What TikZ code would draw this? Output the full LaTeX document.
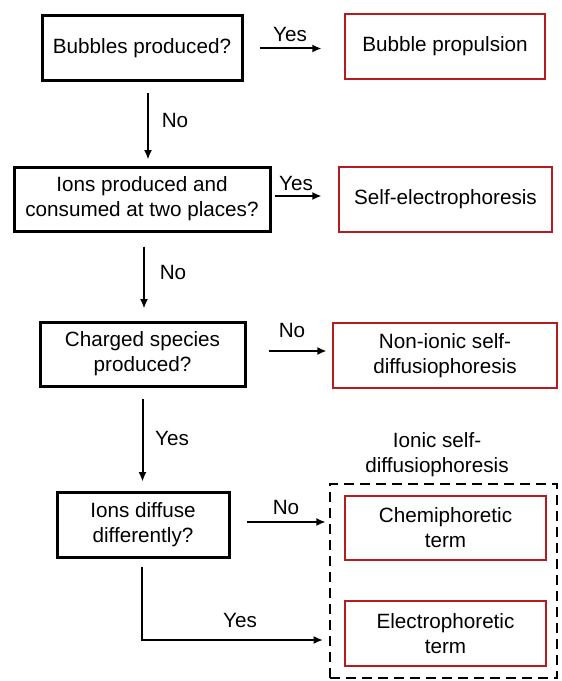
\documentclass[tikz,border=0pt]{standalone}
\usepackage{fontspec}
\setmainfont{Liberation Sans}
\usetikzlibrary{arrows.meta}
\definecolor{termred}{RGB}{180,28,32}
\tikzset{every picture/.style={line width=0.75pt}}
\tikzset{
	txt/.style={font=\fontsize{15.5}{18.6}\selectfont, align=center},
	question/.style={txt, draw, line width=2.25pt, inner sep=0pt},
	outcome/.style={txt, draw=termred, line width=2.1pt, inner sep=0pt},
	flow/.style={line width=1.5pt, -{Latex[length=7pt,width=6pt]}},
	answer/.style={txt}
}

\begin{document}
\begin{tikzpicture}[x=0.75pt,y=0.75pt,yscale=-1,xscale=1]
	\useasboundingbox (0,0) rectangle (561,681);
	
	%Shape: Rectangle [questions]
	\node[question, minimum width=150pt, minimum height=48.75pt] (bubbles) at (142,48.5) {Bubbles produced?};
	\node[question, minimum width=192pt, minimum height=48pt] (ions) at (142,199) {Ions produced and\\consumed at two places?};
	\node[question, minimum width=153.75pt, minimum height=48pt] (charged) at (142.5,354) {Charged species\\produced?};
	\node[question, minimum width=129pt, minimum height=48.75pt] (diffuse) at (143,524.5) {Ions diffuse\\differently?};
	
	%Shape: Rectangle [outcomes]
	\node[outcome, minimum width=150pt, minimum height=48.75pt] (propulsion) at (445,46.5) {Bubble propulsion};
	\node[outcome, minimum width=159.75pt, minimum height=48.75pt] (selfelec) at (445.5,199.5) {Self-electrophoresis};
	\node[outcome, minimum width=168pt, minimum height=48.75pt] (nonionic) at (445,355.5) {Non-ionic self-\\diffusiophoresis};
	
	%Shape: Dashed Rectangle [ionic group]
	\node[draw, dashed, line width=1.9pt, dash pattern=on 7.5pt off 4.5pt, minimum width=170.25pt, minimum height=145.5pt] (ionic) at (443.5,581) {};
	\node[answer] (ioniclbl) at (437,455) {Ionic self-\\diffusiophoresis};
	\node[outcome, minimum width=150.75pt, minimum height=48pt] (chemi) at (445.5,528) {Chemiphoretic\\term};
	\node[outcome, minimum width=150.75pt, minimum height=48.75pt] (electro) at (445.5,633.5) {Electrophoretic\\term};
	
	%Straight Lines [Yes branches]
	\draw[flow, shorten <=12pt, shorten >=16.5pt] (bubbles.east) -- (bubbles.east -| propulsion.west);
	\draw[flow, shorten <=2.25pt, shorten >=12pt] ([yshift=-2.25pt]ions.east) -- ([yshift=-2.25pt]ions.east -| selfelec.west);
	\draw[flow, shorten <=16.5pt, shorten >=3.75pt] ([yshift=-2.25pt]charged.east) -- ([yshift=-2.25pt]charged.east -| nonionic.west);
	\draw[flow, shorten <=12pt, shorten >=2.25pt] ([yshift=-1.9pt]diffuse.east) -- ([yshift=-1.9pt]diffuse.east -| ionic.west);
	
	%Straight Lines [No branches]
	\draw[flow, shorten <=8.25pt, shorten >=4.5pt] ([xshift=4.5pt]bubbles.south) -- ([xshift=4.5pt]bubbles.south |- ions.north);
	\draw[flow, shorten <=10.5pt, shorten >=9pt] ([xshift=1.5pt]ions.south) -- ([xshift=1.5pt]ions.south |- charged.north);
	\draw[flow, shorten <=8.25pt, shorten >=6.75pt] (charged.south) -- (charged.south |- diffuse.north);
	
	\coordinate (yesend) at (330,640);
	\draw[flow, shorten <=6pt, shorten >=5.25pt] ([xshift=-0.75pt]diffuse.south) |- (yesend);
	
	% Text Node
	\node[answer] (yes1) at (290,34) {Yes};
	\node[answer] (no1) at (175,120) {No};
	\node[answer] (yes2) at (296,183) {Yes};
	\node[answer] (no2) at (173,272) {No};
	\node[answer] (no3) at (292,330) {No};
	\node[answer] (yes3) at (172,438) {Yes};
	\node[answer] (no4) at (286,507) {No};
	\node[answer] (yes4) at (240,620) {Yes};
	
\end{tikzpicture}
\end{document}
